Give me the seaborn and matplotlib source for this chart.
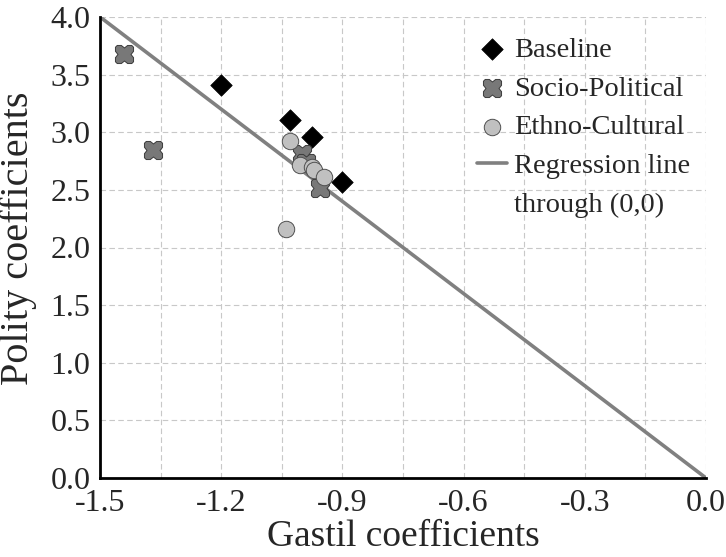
import matplotlib
matplotlib.use("Agg")
import matplotlib.pyplot as plt
from matplotlib.path import Path
from matplotlib.lines import Line2D
import seaborn as sns
import pandas as pd
import numpy as np

# Data
baseline_x = [-1.20, -1.03, -0.975, -0.90]
baseline_y = [3.41, 3.11, 2.96, 2.57]
socio_x = [-1.44, -1.37, -1.00, -0.99, -0.955]
socio_y = [3.68, 2.85, 2.81, 2.73, 2.52]
ethno_x = [-1.03, -1.005, -0.975, -0.97, -0.945, -1.04]
ethno_y = [2.92, 2.72, 2.70, 2.67, 2.61, 2.16]
reg_x = [-1.5, 0.0]
reg_slope = -2.667

df = pd.concat([
    pd.DataFrame({"x": baseline_x, "y": baseline_y, "group": "Baseline"}),
    pd.DataFrame({"x": socio_x, "y": socio_y, "group": "Socio-Political"}),
    pd.DataFrame({"x": ethno_x, "y": ethno_y, "group": "Ethno-Cultural"}),
])
reg_df = pd.DataFrame({"x": reg_x, "y": [reg_slope * v for v in reg_x]})

# notched square ("fat X") marker
verts = [(-0.8, -1), (-0.35, -1), (0, -0.72), (0.35, -1), (0.8, -1), (1, -0.8),
         (1, -0.35), (0.72, 0), (1, 0.35), (1, 0.8), (0.8, 1),
         (0.35, 1), (0, 0.72), (-0.35, 1), (-0.8, 1), (-1, 0.8),
         (-1, 0.35), (-0.72, 0), (-1, -0.35), (-1, -0.8), (-0.8, -1)]
cross = Path(verts, closed=True)

sns.set_style("white")
plt.rcParams["font.family"] = ["Liberation Serif", "DejaVu Serif"]

fig = plt.figure(figsize=(7.26, 5.57), dpi=100)
ax = fig.add_axes([100/726, 1-478/557, 606/726, 461/557])

sns.lineplot(data=reg_df, x="x", y="y", ax=ax, color="#808080", lw=2.6,
             label="Regression line", zorder=2)

styles = {
    "Baseline": dict(marker="D", s=120, color="black", edgecolor="black", lw=0.5),
    "Socio-Political": dict(marker=cross, s=170, color="#787878", edgecolor="#3a3a3a", lw=0.7),
    "Ethno-Cultural": dict(marker="o", s=140, color="#c0c0c0", edgecolor="#505050", lw=0.7),
}
for g, st in styles.items():
    sub = df[df["group"] == g]
    sns.scatterplot(data=sub, x="x", y="y", ax=ax, marker=st["marker"], s=st["s"],
                    color=st["color"], edgecolor=st["edgecolor"], linewidth=st["lw"],
                    label=g, zorder=3)

ax.set_xlim(-1.5, 0.0)
ax.set_ylim(0.0, 4.0)
ax.set_xticks(np.arange(-1.5, 0.01, 0.3))
ax.set_xticks(np.arange(-1.5, 0.01, 0.15), minor=True)
ax.set_yticks(np.arange(0, 4.01, 0.5))
ax.set_xticklabels([f"{v:.1f}" for v in np.arange(-1.5, 0.01, 0.3)])
ax.set_yticklabels([f"{v:.1f}" for v in np.arange(0, 4.01, 0.5)])
ax.grid(True, which="both", color="#c8c8c8", linestyle=(0, (5, 3)), lw=0.8)
ax.tick_params(axis="both", which="both", length=0, labelsize=23)
ax.tick_params(axis="y", pad=7)
ax.tick_params(axis="x", pad=8)
for s in ["top", "right"]:
    ax.spines[s].set_visible(False)
for s in ["left", "bottom"]:
    ax.spines[s].set_color("black")
    ax.spines[s].set_linewidth(2)
ax.set_xlabel("Gastil coefficients", fontsize=27, labelpad=1)
ax.set_ylabel("Polity coefficients", fontsize=29)
ax.yaxis.set_label_coords(-0.104, 0.52)

h, l = ax.get_legend_handles_labels()
order = [l.index(n) for n in ["Baseline", "Socio-Political", "Ethno-Cultural", "Regression line"]]
hs = [h[i] for i in order] + [Line2D([], [], linestyle="none", marker=None)]
ls = [l[i] for i in order] + ["through (0,0)"]
leg = ax.legend(hs, ls, loc="upper left", bbox_to_anchor=(357/606, 1.0),
                frameon=False, fontsize=20.5, borderaxespad=0.3,
                handlelength=1.05, handletextpad=0.25, labelspacing=0.45,
                markerscale=1.0)

fig.savefig("out.png", dpi=100)
